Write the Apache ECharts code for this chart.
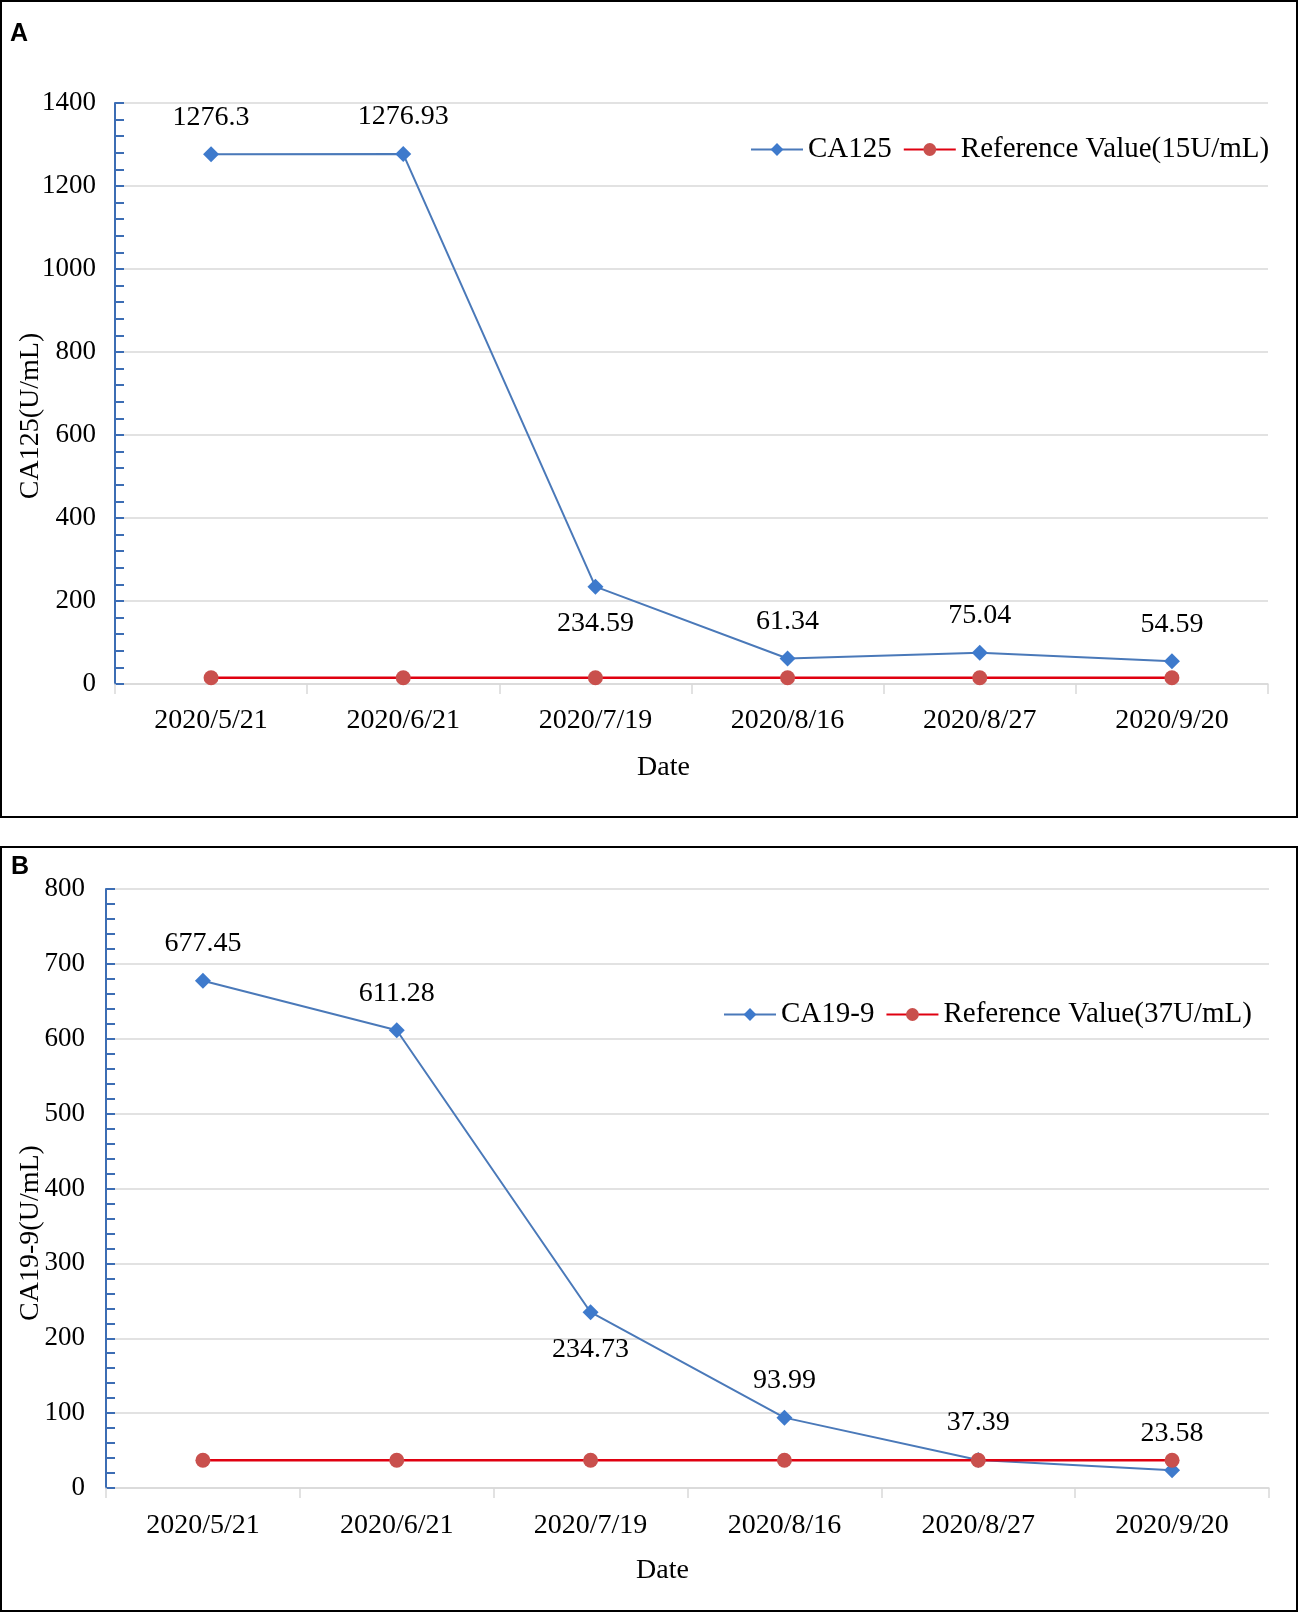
<!DOCTYPE html>
<html>
<head>
<meta charset="utf-8">
<script src="https://cdn.jsdelivr.net/npm/echarts@6/dist/echarts.min.js"></script>
<style>
html,body{margin:0;padding:0;background:#fff;}
#chart{width:1299px;height:1615px;}
</style>
</head>
<body>
<div id="chart"></div>
<script>
const dates = ['2020/5/21','2020/6/21','2020/7/19','2020/8/16','2020/8/27','2020/9/20'];
const ca125 = [1276.3, 1276.93, 234.59, 61.34, 75.04, 54.59];
const ca125Ref = [15, 15, 15, 15, 15, 15];
const ca199 = [677.45, 611.28, 234.73, 93.99, 37.39, 23.58];
const ca199Ref = [37, 37, 37, 37, 37, 37];
const ca125BelowIdx = [2];
const ca199BelowIdx = [2];

const serif = 'Liberation Serif';
const FS = 28;
const blueLine = '#4A79B9';
const blueMark = '#3E7ACC';
const redLine = '#E00010';
const redMark = '#C9504D';

function withLabels(vals, below) {
  return vals.map((v, i) => ({
    value: v,
    label: { position: below.indexOf(i) >= 0 ? 'bottom' : 'top' }
  }));
}

function xAxis(gi, nameGap, margin, namePad) {
  return {
    type: 'category', gridIndex: gi, data: dates, boundaryGap: true,
    name: 'Date', nameLocation: 'middle', nameGap: nameGap, nameMoveOverlap: false,
    nameTextStyle: { fontFamily: serif, fontSize: FS, color: '#000', padding: namePad },
    axisLine: { lineStyle: { color: '#D9D9D9', width: 1.5 } },
    axisTick: { show: true, length: 10, lineStyle: { color: '#D9D9D9', width: 1.5 } },
    axisLabel: { fontFamily: serif, fontSize: FS, color: '#000', margin: margin, interval: 0 },
    splitLine: { show: false }
  };
}

function yAxis(gi, max, interval, name, nameGap, pad, margin) {
  return {
    type: 'value', gridIndex: gi, min: 0, max: max, interval: interval,
    name: name, nameLocation: 'middle', nameGap: nameGap, nameRotate: 90, nameMoveOverlap: false,
    nameTextStyle: { fontFamily: serif, fontSize: FS, color: '#000', padding: pad },
    axisLine: { show: true, lineStyle: { color: '#3C6DB4', width: 2 } },
    axisTick: { show: true, inside: true, length: 9, lineStyle: { color: '#3C6DB4', width: 2 } },
    minorTick: { show: true, splitNumber: 5, length: 9, lineStyle: { color: '#3C6DB4', width: 2 } },
    axisLabel: { fontFamily: serif, fontSize: 27, color: '#000', margin: margin, formatter: v => String(v) },
    splitLine: { show: true, lineStyle: { color: '#D9D9D9', width: 1.5 } }
  };
}

function mainSeries(name, vals, below, xi) {
  return {
    name: name, type: 'line', xAxisIndex: xi, yAxisIndex: xi,
    data: withLabels(vals, below),
    symbol: 'diamond', symbolSize: 16,
    lineStyle: { color: blueLine, width: 2 },
    itemStyle: { color: blueMark },
    label: { show: true, distance: 15, fontFamily: serif, fontSize: FS, color: '#000' },
    z: 3
  };
}

function refSeries(name, vals, xi) {
  return {
    name: name, type: 'line', xAxisIndex: xi, yAxisIndex: xi,
    data: vals,
    symbol: 'circle', symbolSize: 15,
    lineStyle: { color: redLine, width: 2.5 },
    itemStyle: { color: redMark },
    z: 4
  };
}

const chart = echarts.init(document.getElementById('chart'), null, { renderer: 'canvas' });
chart.setOption({
  animation: false,
  backgroundColor: '#fff',
  grid: [
    { left: 115, top: 103, width: 1153, height: 581 },
    { left: 106, top: 889, width: 1163, height: 599 }
  ],
  xAxis: [ xAxis(0, 70, 23, [0, 56, 0, 0]), xAxis(1, 69, 24, [0, 50, 0, 0]) ],
  yAxis: [
    yAxis(0, 1400, 200, 'CA125(U/mL)', 70, [0, 45, 0, 0], 19),
    yAxis(1, 800, 100, 'CA19-9(U/mL)', 61, [0, 89, 0, 0], 21)
  ],
  legend: [
    {
      left: 745, top: 130, itemWidth: 52, itemHeight: 16, itemGap: 11,
      data: ['CA125', 'Reference Value(15U/mL)'],
      textStyle: { fontFamily: serif, fontSize: 29, color: '#000' }
    },
    {
      left: 718, top: 995, itemWidth: 52, itemHeight: 16, itemGap: 11,
      data: ['CA19-9', 'Reference Value(37U/mL)'],
      textStyle: { fontFamily: serif, fontSize: 29, color: '#000' }
    }
  ],
  graphic: [
    { type: 'rect', shape: { x: 1, y: 1, width: 1296, height: 816 }, style: { fill: 'none', stroke: '#000', lineWidth: 2 }, silent: true },
    { type: 'rect', shape: { x: 1, y: 847, width: 1296, height: 764 }, style: { fill: 'none', stroke: '#000', lineWidth: 2 }, silent: true },
    { type: 'text', left: 10, top: 22, style: { text: 'A', font: 'bold 25px "Liberation Sans"', fill: '#000' } },
    { type: 'text', left: 11, top: 855, style: { text: 'B', font: 'bold 25px "Liberation Sans"', fill: '#000' } }
  ],
  series: [
    mainSeries('CA125', ca125, ca125BelowIdx, 0),
    refSeries('Reference Value(15U/mL)', ca125Ref, 0),
    mainSeries('CA19-9', ca199, ca199BelowIdx, 1),
    refSeries('Reference Value(37U/mL)', ca199Ref, 1)
  ]
});
</script>
</body>
</html>
